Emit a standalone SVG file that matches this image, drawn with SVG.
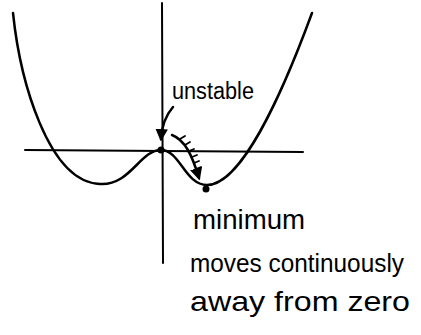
<svg xmlns="http://www.w3.org/2000/svg" width="421" height="335" viewBox="0 0 421 335">
<style>
.ln{fill:none;stroke:#000;stroke-linecap:round;stroke-linejoin:round}
.tx{font-family:"Liberation Sans",Arial,sans-serif;fill:#000}
</style>
<defs>
<marker id="ah" viewBox="0 0 10 10" refX="8" refY="5" markerWidth="5" markerHeight="5" orient="auto-start-reverse">
<path d="M0,0 L10,5 L0,10 z" fill="#000"/>
</marker>
</defs>
<rect width="421" height="335" fill="#fff"/>
<g id="axes">
<path class="ln" stroke-width="2" d="M162,3 L163,263"/>
<path class="ln" stroke-width="2" d="M25,150 L303,152"/>
</g>
<g id="curve">
<path class="ln" stroke-width="2.5" d="M13,13 C20,80 48,182 100,184 C130,186 140,150 161,150 C180,150 185,185 207,185 C240,185 280,100 312,13"/>
<circle cx="161" cy="150" r="3.5"/>
<circle cx="206" cy="189" r="3.5"/>
</g>
<g id="connectors">
<path class="ln" stroke-width="2.5" marker-end="url(#ah)" d="M173,107 C166,115 162,124 161,139"/>
<path class="ln" stroke-width="2.5" marker-end="url(#ah)" d="M172,135 C185,140 192,155 199,178"/>
<path class="ln" stroke-width="1.8" d="M180,139 l5,-3 M185,145 l5,-3 M189,151 l5,-2 M192,157 l5,-2 M194,163 l5,-2 M196,169 l5,-2"/>
</g>
<g id="label-unstable">
<text class="tx" x="172" y="99" font-size="23" textLength="82" lengthAdjust="spacingAndGlyphs">unstable</text>
</g>
<g id="label-minimum">
<text class="tx" x="193" y="229" font-size="28" textLength="112" lengthAdjust="spacingAndGlyphs">minimum</text>
<text class="tx" x="190" y="272" font-size="25" textLength="214" lengthAdjust="spacingAndGlyphs">moves continuously</text>
<text class="tx" x="190" y="311" font-size="28" textLength="220" lengthAdjust="spacingAndGlyphs">away from zero</text>
</g>
</svg>
